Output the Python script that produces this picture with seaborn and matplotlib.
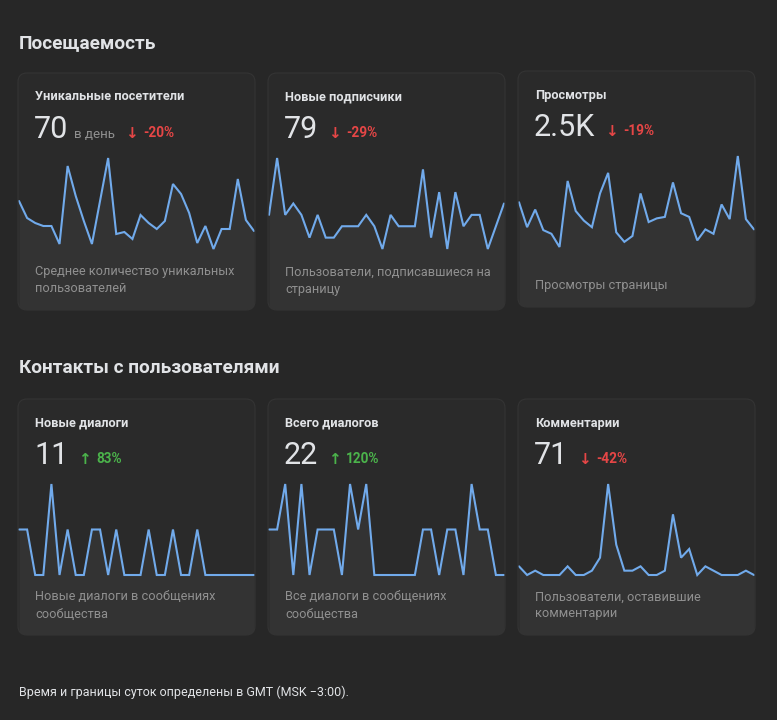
import numpy as np
import pandas as pd
import matplotlib
matplotlib.use("Agg")
import matplotlib.pyplot as plt
import seaborn as sns
from matplotlib.patches import FancyBboxPatch

# ---------------- data ----------------
section_titles = ["Посещаемость", "Контакты с пользователями"]
card_titles = ["Уникальные посетители", "Новые подписчики", "Просмотры",
               "Новые диалоги", "Всего диалогов", "Комментарии"]
card_values = ["70", "79", "2.5K", "11", "22", "71"]
card_units = ["в день", "", "", "", "", ""]
card_changes = ["-20%", "-29%", "-19%", "83%", "120%", "-42%"]
card_up = [False, False, False, True, True, False]
card_desc = ["Среднее количество уникальных\nпользователей",
             "Пользователи, подписавшиеся на\nстраницу",
             "Просмотры страницы",
             "Новые диалоги в сообщениях\nсообщества",
             "Все диалоги в сообщениях\nсообщества",
             "Пользователи, оставившие\nкомментарии"]
footer_text = "Время и границы суток определены в GMT (MSK −3:00)."

unique_visitors = [86, 69, 64, 61, 61, 43, 121, 91, 66, 43, 86, 129, 53, 55, 48,
                   72, 64, 58, 66, 103, 93, 74, 44, 61, 38, 58, 58, 108, 67, 56]
new_subscribers = [3, 8, 3, 4, 3, 1, 3, 1, 1, 2, 2, 2, 3, 2, 0,
                   3, 2, 2, 2, 7, 1, 5, 0, 5, 2, 3, 3, 0, 2, 4]
page_views = [101, 67, 91, 63, 58, 40, 130, 89, 76, 67, 113, 141, 60, 47, 55,
              113, 74, 79, 81, 128, 86, 81, 49, 64, 58, 98, 78, 164, 78, 64]
new_dialogs = [1, 1, 0, 0, 2, 0, 1, 0, 0, 1, 1, 0, 1, 0, 0,
               0, 1, 0, 0, 1, 0, 0, 1, 0, 0, 0, 0, 0, 0, 0]
total_dialogs = [1, 1, 2, 0, 2, 0, 1, 1, 1, 0, 2, 1, 2, 0, 0,
                 0, 0, 0, 0, 1, 1, 0, 1, 1, 0, 2, 1, 1, 0, 0]
comments = [2, 0, 1, 0, 0, 0, 2, 0, 0, 1, 4, 21, 7, 1, 1,
            2, 0, 0, 1, 14, 4, 6, 0, 2, 1, 0, 0, 0, 1, 0]
series = [unique_visitors, new_subscribers, page_views,
          new_dialogs, total_dialogs, comments]

# ---------------- style ----------------
BG = "#272727"
CARD = "#2a2a2a"
BORDER = "#343434"
FILL = "#333333"
LINE = "#71aaeb"
TXT = "#e1e3e6"
SUB = "#909090"
RED = "#e64646"
GREEN = "#4bb34b"

sns.set_theme(style="dark")
plt.rcParams["font.family"] = ["Roboto", "DejaVu Sans"]

W, H = 777, 720
fig = plt.figure(figsize=(W / 100, H / 100), dpi=100, facecolor=BG)

bg = fig.add_axes([0, 0, 1, 1], zorder=0)
bg.set_xlim(0, W); bg.set_ylim(H, 0); bg.axis("off")
top = fig.add_axes([0, 0, 1, 1], zorder=10)
top.set_xlim(0, W); top.set_ylim(H, 0); top.axis("off")
top.patch.set_alpha(0)

boxes = [(18, 73, 255, 310), (268, 73, 505, 310), (518, 71, 755, 307),
         (18, 399, 255, 635), (268, 399, 505, 635), (518, 399, 755, 635)]

top.text(19, 43, section_titles[0], fontsize=13.7, fontweight="bold", color=TXT, va="center")
top.text(19, 368, section_titles[1], fontsize=13.7, fontweight="bold", color=TXT, va="center")
top.text(19, 692, footer_text, fontsize=9, color=TXT, va="center")

BAND = 91
fig.canvas.draw()
renderer = fig.canvas.get_renderer()

def px_right(t):
    bb = t.get_window_extent(renderer=renderer)
    return bb.x1

for i, (x0, y0, x1, y1) in enumerate(boxes):
    card = FancyBboxPatch((x0, y0), x1 - x0, y1 - y0,
                          boxstyle="round,pad=0,rounding_size=9",
                          fc=CARD, ec="none", lw=0)
    bg.add_patch(card)
    border = FancyBboxPatch((x0, y0), x1 - x0, y1 - y0,
                            boxstyle="round,pad=0,rounding_size=9",
                            fc="none", ec=BORDER, lw=0.8)
    top.add_patch(border)

    # sparkline
    vals = np.array(series[i], dtype=float)
    df = pd.DataFrame({"day": np.arange(len(vals)), "v": vals})
    band_top = y0 + 85
    ax = fig.add_axes([(x0 + 1) / W, 1 - y1 / H, (x1 - x0 - 2) / W, (y1 - band_top) / H], zorder=5)
    ax.set_facecolor("none")
    vmin, vmax = vals.min(), vals.max()
    below = y1 - (band_top + BAND)
    ylo = vmin - below / BAND * (vmax - vmin)
    fb = ax.fill_between(df["day"], df["v"], ylo, color=FILL, lw=0)
    fb.set_clip_path(card)
    sns.lineplot(data=df, x="day", y="v", ax=ax, color=LINE, lw=1.5)
    for ln in ax.lines:
        ln.set_clip_on(False)
        ln.set_solid_joinstyle("miter")
    ax.set_xlim(0, len(vals) - 1)
    ax.set_ylim(ylo, vmax)
    ax.axis("off")

    # texts
    tx = x0 + 17
    top.text(tx, y0 + 27.5, card_titles[i], fontsize=9.2, fontweight="bold",
             color=TXT, va="baseline")
    vt = top.text(tx - 1, y0 + 65, card_values[i], fontsize=22, color=TXT, va="baseline")
    xr = px_right(vt)
    if card_units[i]:
        ut = top.text(xr + 6, y0 + 65, card_units[i], fontsize=9.6, color=SUB, va="baseline")
        xr = px_right(ut)
    col = GREEN if card_up[i] else RED
    arrow = "↑" if card_up[i] else "↓"
    at = top.text(xr + 10, y0 + 64.5, arrow, fontsize=11, color=col, va="baseline",
                  fontweight="bold", family=["DejaVu Sans"])
    xa = px_right(at)
    top.text(xa + 5, y0 + 64, card_changes[i], fontsize=9.8, color=col, va="baseline",
             fontweight="bold")

    lines = card_desc[i].split("\n")
    last_c = y1 - 21
    for k, ln in enumerate(lines):
        cy = last_c - 17 * (len(lines) - 1 - k)
        top.text(tx, cy, ln, fontsize=9.2, color=SUB, va="center")

fig.savefig("out.png", dpi=100, facecolor=BG)
